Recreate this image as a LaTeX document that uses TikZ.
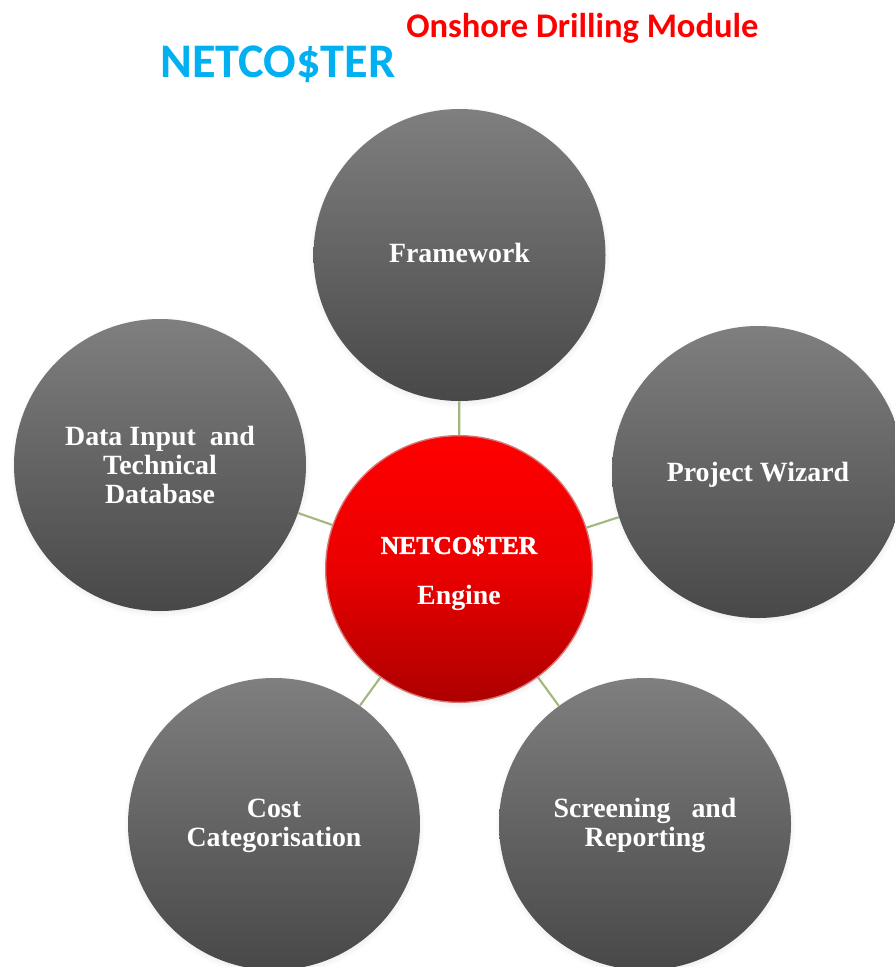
\documentclass[tikz,border=0pt]{standalone}
\usepackage{fontspec}
\setmainfont{Liberation Serif}
\newfontfamily\headfont{Carlito}
\usetikzlibrary{shadows}
\definecolor{headblue}{HTML}{00B0F0}
\definecolor{linkgreen}{HTML}{A3B87F}
\definecolor{gray7}{HTML}{7F7F7F}
\definecolor{gray4}{HTML}{484848}
\tikzset{
  ball/.style={circle,inner sep=0pt,align=center,text=white,
    font=\fontsize{20.9}{21.8}\selectfont\bfseries,
    circular drop shadow={shadow xshift=0pt,shadow yshift=-1.5pt,shadow scale=1.03,opacity=0.35}},
  greyball/.style={ball,minimum size=219pt,top color=gray7,bottom color=gray4},
  redball/.style={ball,minimum size=200pt,draw=red!55!gray!70,line width=1pt,top color=red,bottom color=red!68!black,middle color=red!92!black},
  link/.style={draw=linkgreen,line width=1.6pt},
  head/.style={inner sep=0pt,anchor=base west}
}
\begin{document}
\begin{tikzpicture}[x=0.75pt,y=-0.75pt]
\useasboundingbox (0,0) rectangle (895,967);
\node[greyball] (fw) at (459.5,255) {\raisebox{-5.3pt}[0pt][0pt]{Framework}};
\node[greyball] (pw) at (758,472) {\raisebox{-6.8pt}[0pt][0pt]{Project Wizard}};
\node[greyball] (di) at (160,465) {Data Input\ \ and\\Technical\\Database};
\node[greyball] (cc) at (274,824) {\rule{0pt}{17pt}Cost\\Categorisation};
\node[greyball] (sr) at (645,824) {\rule{0pt}{17pt}Screening\ \ \ and\\Reporting};
\node[redball] (en) at (459,569) {{\fontsize{19.2}{21.8}\selectfont\addfontfeature{FakeBold=1.6}\rule{0pt}{19.6pt}NETCO\$TER}\\[15.8pt]Engine};
\draw[link] (en) -- (fw);
\draw[link] (en) -- (pw);
\draw[link] (en) -- (sr);
\draw[link] (en) -- (cc);
\draw[link] (en) -- (di);
\node[head,text=headblue,font=\headfont\bfseries\fontsize{36.2}{40}\selectfont] (nc) at (160,77) {NETCO\$TER};
\node[head,text=red,font=\headfont\bfseries\fontsize{25.9}{30}\selectfont] (od) at (406,37) {Onshore Drilling Module};
\end{tikzpicture}
\end{document}
